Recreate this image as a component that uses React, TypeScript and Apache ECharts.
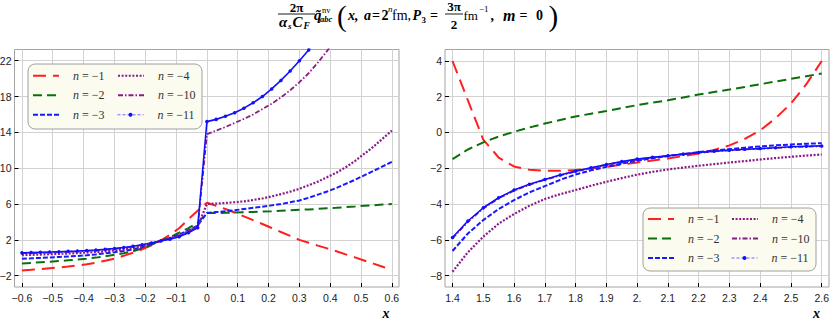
import React, { useEffect, useRef } from 'react';
import * as echarts from 'echarts';

const SANS = 'Liberation Sans, Arial, Helvetica, sans-serif';
const SERIF = 'Liberation Serif, Times New Roman, serif';

const SERIES_NAMES = ['n=-1', 'n=-2', 'n=-3', 'n=-4', 'n=-10', 'n=-11'];

// Left panel: x from -0.6 to 0.6
const X_LEFT = [-0.6, -0.57, -0.54, -0.51, -0.48, -0.45, -0.42, -0.39, -0.36, -0.33, -0.3, -0.27, -0.24, -0.21, -0.18, -0.15, -0.12, -0.09, -0.06, -0.03, 0, 0.03, 0.06, 0.09, 0.12, 0.15, 0.18, 0.21, 0.24, 0.27, 0.3, 0.33, 0.36, 0.39, 0.42, 0.45, 0.48, 0.51, 0.54, 0.57, 0.6];
const LEFT_N1 = [-1.41, -1.34, -1.26, -1.17, -1.08, -0.98, -0.86, -0.72, -0.56, -0.33, -0.1, 0.22, 0.57, 0.95, 1.4, 1.93, 2.55, 3.3, 4.3, 5.25, 6.15, 5.8, 5.45, 5.05, 4.63, 4.2, 3.77, 3.33, 2.88, 2.44, 2.0, 1.68, 1.36, 1.05, 0.73, 0.38, 0.05, -0.3, -0.65, -1.0, -1.35];
const LEFT_N2 = [-0.63, -0.57, -0.5, -0.43, -0.36, -0.28, -0.2, -0.1, 0.02, 0.17, 0.33, 0.5, 0.72, 1.05, 1.45, 1.9, 2.3, 2.8, 3.3, 3.9, 5.0, 5.0, 5.02, 5.05, 5.08, 5.12, 5.16, 5.2, 5.25, 5.3, 5.35, 5.4, 5.46, 5.52, 5.58, 5.65, 5.72, 5.8, 5.87, 5.94, 6.0];
const LEFT_N3 = [-0.1, -0.06, -0.01, 0.04, 0.09, 0.15, 0.21, 0.28, 0.38, 0.49, 0.62, 0.76, 0.93, 1.18, 1.52, 1.9, 2.2, 2.6, 3.05, 3.6, 5.0, 5.1, 5.2, 5.3, 5.45, 5.58, 5.7, 5.85, 6.0, 6.2, 6.4, 6.7, 7.05, 7.4, 7.8, 8.25, 8.7, 9.2, 9.7, 10.2, 10.7];
const LEFT_N4 = [0.3, 0.33, 0.36, 0.4, 0.44, 0.48, 0.53, 0.58, 0.64, 0.72, 0.82, 0.93, 1.08, 1.28, 1.58, 1.9, 2.15, 2.5, 2.95, 3.5, 6.0, 6.05, 6.12, 6.2, 6.3, 6.45, 6.62, 6.85, 7.1, 7.38, 7.7, 8.1, 8.5, 9.0, 9.5, 10.1, 10.8, 11.6, 12.4, 13.3, 14.2];
const LEFT_N10 = [0.5, 0.53, 0.56, 0.6, 0.63, 0.67, 0.71, 0.76, 0.82, 0.9, 0.99, 1.1, 1.24, 1.42, 1.64, 1.88, 2.1, 2.4, 2.85, 3.4, 13.8, 14.2, 14.6, 15.05, 15.5, 16.0, 16.6, 17.2, 17.9, 18.7, 19.6, 20.6, 21.8, 23.1, 24.5];
const LEFT_N11 = [0.55, 0.58, 0.61, 0.64, 0.68, 0.72, 0.76, 0.81, 0.87, 0.95, 1.04, 1.15, 1.28, 1.45, 1.66, 1.88, 2.08, 2.35, 2.8, 3.35, 15.2, 15.45, 15.8, 16.2, 16.7, 17.3, 18.0, 18.85, 19.8, 20.85, 22.0, 23.2, 24.5, 26.0];

// Right panel: x from 1.4 to 2.6
const X_RIGHT = [1.4, 1.45, 1.5, 1.55, 1.6, 1.65, 1.7, 1.75, 1.8, 1.85, 1.9, 1.95, 2.0, 2.05, 2.1, 2.15, 2.2, 2.25, 2.3, 2.35, 2.4, 2.45, 2.5, 2.55, 2.6];
const RIGHT_N1 = [4.0, 1.8, -0.4, -1.4, -1.9, -2.08, -2.14, -2.14, -2.1, -2.02, -1.92, -1.8, -1.68, -1.57, -1.46, -1.32, -1.17, -0.98, -0.72, -0.36, 0.12, 0.8, 1.62, 2.7, 4.0];
const RIGHT_N2 = [-1.49, -0.95, -0.55, -0.23, 0.04, 0.28, 0.5, 0.7, 0.9, 1.05, 1.2, 1.37, 1.53, 1.67, 1.8, 1.96, 2.12, 2.26, 2.4, 2.55, 2.7, 2.85, 3.0, 3.15, 3.3];
const RIGHT_N3 = [-6.63, -5.65, -4.9, -4.28, -3.78, -3.35, -3.0, -2.65, -2.35, -2.12, -1.92, -1.74, -1.58, -1.44, -1.32, -1.2, -1.1, -1.01, -0.93, -0.85, -0.78, -0.72, -0.67, -0.63, -0.6];
const RIGHT_N4 = [-7.79, -6.7, -5.83, -5.1, -4.56, -4.1, -3.72, -3.45, -3.22, -2.98, -2.76, -2.55, -2.36, -2.2, -2.07, -1.96, -1.86, -1.77, -1.68, -1.6, -1.51, -1.43, -1.36, -1.29, -1.23];
const RIGHT_N10 = [-5.92, -5.0, -4.25, -3.68, -3.25, -2.92, -2.65, -2.4, -2.18, -1.99, -1.81, -1.65, -1.51, -1.4, -1.31, -1.22, -1.13, -1.06, -1.0, -0.95, -0.91, -0.86, -0.82, -0.79, -0.77];
const RIGHT_N11 = [-5.87, -4.95, -4.21, -3.65, -3.22, -2.9, -2.63, -2.38, -2.16, -1.97, -1.79, -1.63, -1.49, -1.39, -1.3, -1.21, -1.12, -1.05, -0.99, -0.94, -0.9, -0.85, -0.8, -0.77, -0.75];

// Tick labels
const X_LEFT_TICKS = [-0.6, -0.5, -0.4, -0.3, -0.2, -0.1, 0, 0.1, 0.2, 0.3, 0.4, 0.5, 0.6];
const Y_LEFT_TICKS = [-2, 2, 6, 10, 14, 18, 22];
const X_RIGHT_TICKS = [1.4, 1.5, 1.6, 1.7, 1.8, 1.9, 2.0, 2.1, 2.2, 2.3, 2.4, 2.5, 2.6];
const Y_RIGHT_TICKS = [-8, -6, -4, -2, 0, 2, 4];

const LEFT_DATA = [LEFT_N1, LEFT_N2, LEFT_N3, LEFT_N4, LEFT_N10, LEFT_N11];
const RIGHT_DATA = [RIGHT_N1, RIGHT_N2, RIGHT_N3, RIGHT_N4, RIGHT_N10, RIGHT_N11];

const STYLES: Record<string, any> = {
  'n=-1': { color: '#ff1f1f', type: [13, 7], width: 2 },
  'n=-2': { color: '#0b700b', type: [9, 5], width: 2 },
  'n=-3': { color: '#1a1aff', type: [5, 2], width: 2 },
  'n=-4': { color: '#8a1a8a', type: [2, 1.6], width: 2.2 },
  'n=-10': { color: '#8a1a8a', type: [5, 2, 1.5, 2], width: 1.8 },
  'n=-11': { color: '#1010ff', type: 'solid', width: 1.6 },
};

const minus = (s: string) => s.replace('-', '\u2212');
const fmtLeftX = (v: number) => (Math.abs(v) < 1e-9 ? '0' : minus(v.toFixed(1)));
const fmtRightX = (v: number) => (Math.abs(v - 2) < 1e-9 ? '2.' : v.toFixed(1));
const fmtY = (v: number) => minus(String(Math.round(v)));

const tickFont = { fontFamily: SANS, fontSize: 10.5, color: '#222' };

function mkX(gridIndex: number, min: number, max: number, ticks: number[], fmt: (v: number) => string) {
  return {
    type: 'value', gridIndex, min, max, splitNumber: 12, position: 'bottom',
    axisLine: { show: false, onZero: false },
    axisTick: { show: true, inside: true, length: 4, lineStyle: { color: '#000', width: 1 }, customValues: ticks },
    axisLabel: { show: true, customValues: ticks, formatter: fmt, margin: 5, ...tickFont },
    splitLine: { show: true, lineStyle: { color: '#d2d2d2', width: 1 } },
  };
}
function mkY(gridIndex: number, min: number, max: number, ticks: number[]) {
  return {
    type: 'value', gridIndex, min, max, splitNumber: 13, position: 'left',
    axisLine: { show: false, onZero: false },
    axisTick: { show: true, inside: true, length: 4, lineStyle: { color: '#000', width: 1 }, customValues: ticks },
    axisLabel: { show: true, customValues: ticks, formatter: fmtY, margin: 3, ...tickFont },
    splitLine: { show: true, lineStyle: { color: '#d2d2d2', width: 1 } },
  };
}

function mkSeries(name: string, xs: number[], ys: number[], idx: number) {
  const st = STYLES[name];
  const isMarked = name === 'n=-11';
  return {
    type: 'line', name, xAxisIndex: idx, yAxisIndex: idx,
    data: ys.map((y, i) => [xs[i], y]),
    symbol: isMarked ? 'circle' : 'none',
    symbolSize: 3.5,
    showSymbol: isMarked,
    itemStyle: { color: st.color },
    lineStyle: { color: st.color, type: st.type, width: st.width },
    clip: true, silent: true, z: 2,
  };
}

const legendText = (name: string) => `{i|n}{r| = ${minus(name.slice(2))}}`;

function mkLegend(name: string, left: number, yc: number) {
  const isMarked = name === 'n=-11';
  const item: any = { name };
  if (isMarked) {
    item.lineStyle = { type: [3, 2], width: 1, color: '#6a6aff' };
    item.itemStyle = { color: '#1010ff', opacity: 1 };
  } else {
    item.itemStyle = { opacity: 0 };
  }
  return {
    orient: 'vertical', left, top: yc - 7, padding: 0, z: 5,
    itemWidth: 26, itemHeight: isMarked ? 5 : 14,
    selectedMode: false,
    data: [item],
    formatter: legendText,
    textStyle: {
      fontFamily: SERIF, fontSize: 12, lineHeight: 14, color: '#333', padding: [0, 0, 0, 9],
      rich: {
        i: { fontFamily: SERIF, fontSize: 12, fontStyle: 'italic', color: '#333', lineHeight: 14 },
        r: { fontFamily: SERIF, fontSize: 12, color: '#333', lineHeight: 14 },
      },
    },
  };
}

function txt(text: string, x: number, y: number, size: number, opts: any = {}) {
  const va = opts.valign || 'middle';
  return {
    type: 'text', x, y, z: 10,
    style: {
      text, fill: '#000', fontFamily: SERIF, fontSize: size,
      fontWeight: opts.bold ? 'bold' : 'normal',
      fontStyle: opts.italic ? 'italic' : 'normal',
      align: opts.align || 'left', textAlign: opts.align || 'left',
      verticalAlign: va, textVerticalAlign: va,
    },
  };
}
function hline(x1: number, x2: number, y: number) {
  return { type: 'line', z: 10, shape: { x1, y1: y, x2, y2: y }, style: { stroke: '#000', lineWidth: 0.9 } };
}

const B = { bold: true };
const BI = { bold: true, italic: true };

const titleElements = [
  txt('2\u03c0', 296.5, 7, 13, { bold: true, align: 'center' }),
  hline(278, 315, 14),
  txt('\u03b1', 279, 22, 15, BI),
  txt('s', 288, 25.5, 9, BI),
  txt('C', 292.5, 22, 15, BI),
  txt('F', 303.5, 25.5, 9.5, BI),
  txt('q\u0303', 314, 15, 15, BI),
  txt('nv', 322, 9.5, 8.5, {}),
  txt('abc', 320, 18.5, 8.5, BI),
  txt('(', 337, 16, 29, {}),
  txt('x,', 348, 15, 14, BI),
  txt('a', 364, 15, 14, BI),
  txt('=', 372, 15, 14, B),
  txt('2', 381.5, 15, 14, B),
  txt('n', 388, 8.5, 9, { italic: true }),
  txt('fm,', 392, 15, 14, {}),
  txt('P', 412.5, 15, 14, BI),
  txt('3', 421.5, 19.5, 9, B),
  txt('=', 430, 15, 14, B),
  txt('3\u03c0', 454, 6.5, 13, { bold: true, align: 'center' }),
  hline(445, 463, 14),
  txt('2', 454, 24.5, 13, { bold: true, align: 'center' }),
  txt('fm', 463.5, 15, 13, {}),
  txt('\u22121', 479, 8.5, 9, {}),
  txt(',', 490.5, 15, 14, B),
  txt('m', 503, 15, 16, BI),
  txt('=', 519.5, 15, 14, B),
  txt('0', 536, 15, 14, B),
  txt(')', 548.5, 16, 29, {}),
];

const option: any = {
  animation: false,
  backgroundColor: '#ffffff',
  grid: [
    { left: 14.5, top: 49.5, width: 384.5, height: 237.5, show: true, borderColor: '#a3a3a3', borderWidth: 1, backgroundColor: 'transparent', containLabel: false, outerBoundsMode: 'none' },
    { left: 445, top: 49.5, width: 384, height: 237.5, show: true, borderColor: '#a3a3a3', borderWidth: 1, backgroundColor: 'transparent', containLabel: false, outerBoundsMode: 'none' },
  ],
  xAxis: [
    mkX(0, -0.624, 0.623, X_LEFT_TICKS, fmtLeftX),
    mkX(1, 1.3756, 2.6237, X_RIGHT_TICKS, fmtRightX),
  ],
  yAxis: [
    mkY(0, -3.26, 23.25, Y_LEFT_TICKS),
    mkY(1, -8.643, 4.643, Y_RIGHT_TICKS),
  ],
  legend: [
    mkLegend('n=-1', 32, 75.7), mkLegend('n=-2', 32, 95.2), mkLegend('n=-3', 32, 114.8),
    mkLegend('n=-4', 117, 75.7), mkLegend('n=-10', 117, 95.2), mkLegend('n=-11', 117, 114.8),
    mkLegend('n=-1', 647, 219), mkLegend('n=-2', 647, 238.5), mkLegend('n=-3', 647, 258),
    mkLegend('n=-4', 731, 219), mkLegend('n=-10', 731, 238.5), mkLegend('n=-11', 731, 258),
  ],
  graphic: {
    elements: [
      { type: 'rect', z: 4, shape: { x: 28, y: 64, width: 174, height: 65, r: 7 }, style: { fill: '#fbfbef', stroke: '#a0a0a0', lineWidth: 1 } },
      { type: 'rect', z: 4, shape: { x: 643, y: 208, width: 173, height: 63, r: 7 }, style: { fill: '#fbfbef', stroke: '#a0a0a0', lineWidth: 1 } },
      txt('x', 386, 320, 14, { ...BI, align: 'center', valign: 'bottom' }),
      txt('x', 816.5, 320, 14, { ...BI, align: 'center', valign: 'bottom' }),
      ...titleElements,
    ],
  },
  series: [
    ...SERIES_NAMES.map((n, i) => mkSeries(n, X_LEFT, LEFT_DATA[i], 0)),
    ...SERIES_NAMES.map((n, i) => mkSeries(n, X_RIGHT, RIGHT_DATA[i], 1)),
  ],
};

export default function App() {
  const ref = useRef<HTMLDivElement>(null);
  useEffect(() => {
    if (!ref.current) return;
    const chart = echarts.init(ref.current, undefined, { renderer: 'svg' });
    chart.setOption(option);
    return () => chart.dispose();
  }, []);
  return <div ref={ref} style={{ position: 'fixed', left: 0, top: 0, width: 830, height: 320, background: '#fff' }} />;
}
